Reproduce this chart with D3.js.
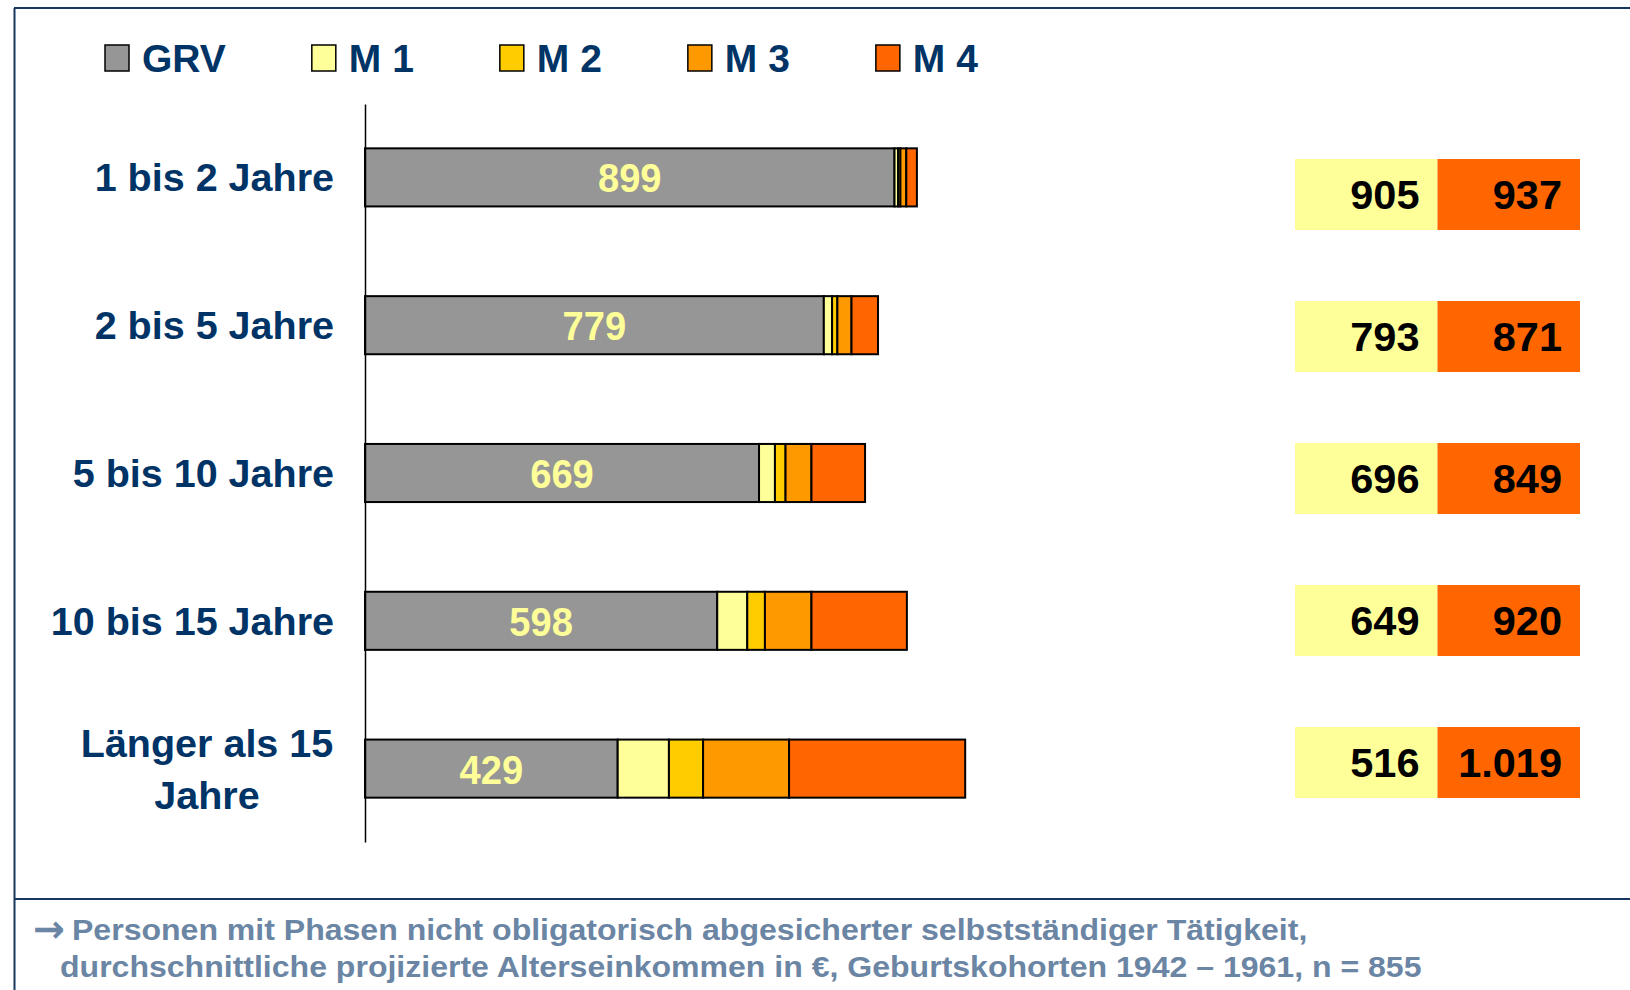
<!DOCTYPE html>
<html>
<head>
<meta charset="utf-8">
<script src="https://cdn.jsdelivr.net/npm/d3@7"></script>
<style>
  body { margin: 0; background: #fff; }
  svg { display: block; }
</style>
</head>
<body>
<div class="container"></div>
<script>
const categories = ["1 bis 2 Jahre", "2 bis 5 Jahre", "5 bis 10 Jahre", "10 bis 15 Jahre", "Länger als 15 Jahre"]
const seriesNames = ["GRV", "M 1", "M 2", "M 3", "M 4"]
const grv = [899, 779, 669, 598, 429]
const m1 = [6, 14, 27, 51, 87]
const m2 = [4, 9, 18, 30, 58]
const m3 = [10, 24, 44, 79, 146]
const m4 = [18, 45, 91, 162, 299]
const grvPlusM1 = ["905", "793", "696", "649", "516"]
const totals = ["937", "871", "849", "920", "1.019"]
const footerLines = [
    "Personen mit Phasen nicht obligatorisch abgesicherter selbstst\u00e4ndiger T\u00e4tigkeit,",
    "durchschnittliche projizierte Alterseinkommen in \u20ac, Geburtskohorten 1942 \u2013 1961, n = 855"
]

const colors = ["#969696", "#FFFF99", "#FFCC00", "#FF9900", "#FF6600"]
const navy = "#003366"
const width = 1630
const height = 990

const svg = d3.select(".container").append("svg")
    .attr("width", width)
    .attr("height", height)

// frame lines
svg.append("line").attr("x1", 14).attr("x2", width).attr("y1", 8).attr("y2", 8)
    .attr("stroke", "#17375E").attr("stroke-width", 2)
svg.append("line").attr("x1", 14.5).attr("x2", 14.5).attr("y1", 8).attr("y2", height)
    .attr("stroke", "#17375E").attr("stroke-width", 2)
svg.append("line").attr("x1", 14).attr("x2", width).attr("y1", 899).attr("y2", 899)
    .attr("stroke", "#17375E").attr("stroke-width", 2)

const xScale = d3.scaleLinear()
    .domain([0, 1000])
    .range([365, 954])

const yScale = d3.scaleBand()
    .domain(categories)
    .range([104, 842])
    .paddingInner(0.607)
    .paddingOuter(0.3)

const series = [grv, m1, m2, m3, m4]
const rows = categories.map((c, i) => {
    const row = { cat: c }
    seriesNames.forEach((s, j) => row[s] = series[j][i])
    return row
})
const stacked = d3.stack().keys(seriesNames)(rows)

stacked.forEach((layer, j) => {
    svg.append("g")
        .selectAll("rect")
        .data(layer)
        .enter()
        .append("rect")
        .attr("x", d => xScale(d[0]))
        .attr("y", d => yScale(d.data.cat))
        .attr("width", d => xScale(d[1]) - xScale(d[0]))
        .attr("height", yScale.bandwidth())
        .style("fill", colors[j])
        .style("stroke", "#000")
        .style("stroke-width", 2)
})

// GRV value labels (slightly condensed)
svg.append("g")
    .selectAll("text")
    .data(stacked[0])
    .enter()
    .append("text")
    .attr("transform", d => `translate(${(xScale(d[0]) + xScale(d[1])) / 2},${yScale(d.data.cat) + yScale.bandwidth() / 2 + 15}) scale(0.93,1)`)
    .attr("text-anchor", "middle")
    .style("font-family", "'Liberation Sans', Arial, sans-serif")
    .style("font-weight", "bold")
    .style("font-size", "41px")
    .style("fill", "#FFFF99")
    .text(d => d[1] - d[0])

// y axis line, no ticks
const yAxis = d3.axisLeft(yScale).tickSize(0).tickFormat("")
svg.append("g")
    .attr("transform", "translate(365,0)")
    .call(yAxis)
    .call(g => g.select(".domain").attr("stroke", "#000").attr("stroke-width", 1.5))

// category labels
const catLabels = svg.append("g")
    .selectAll("text")
    .data(categories)
    .enter()
    .append("text")
    .attr("text-anchor", "end")
    .style("font-family", "'Liberation Sans', Arial, sans-serif")
    .style("font-weight", "bold")
    .style("font-size", "39.5px")
    .style("fill", navy)

catLabels.each(function (d) {
    const cy = yScale(d) + yScale.bandwidth() / 2
    const t = d3.select(this)
    if (d === "Länger als 15 Jahre") {
        t.attr("text-anchor", "middle")
        t.append("tspan").attr("x", 207).attr("y", cy - 26 + 14).text("Länger als 15")
        t.append("tspan").attr("x", 207).attr("y", cy + 26 + 14).text("Jahre")
    } else {
        t.attr("x", 334).attr("y", cy + 14).text(d)
    }
})

// legend
const legend = svg.append("g").attr("class", "legend")
let lx = 105
seriesNames.forEach((s, i) => {
    legend.append("rect")
        .attr("x", lx).attr("y", 45)
        .attr("width", 24).attr("height", 26)
        .style("fill", colors[i])
        .style("stroke", "#000")
        .style("stroke-width", 1.5)
    const t = legend.append("text")
        .attr("x", lx + 37).attr("y", 72)
        .style("font-family", "'Liberation Sans', Arial, sans-serif")
        .style("font-weight", "bold")
        .style("font-size", "39px")
        .style("fill", navy)
        .text(s)
    lx = lx + 37 + t.node().getComputedTextLength() + 86
})

// right hand table
const tableY = d3.scaleBand()
    .domain(categories)
    .range([159, 798])
    .paddingInner(0.5)

const tableX = d3.scaleBand()
    .domain(["sum", "total"])
    .range([1295, 1580])

const tableData = categories.map((c, i) => ({ cat: c, sum: grvPlusM1[i], total: totals[i] }))
const tableCols = [
    { key: "sum", fill: "#FFFF99" },
    { key: "total", fill: "#FF6600" }
]

tableCols.forEach(col => {
    const g = svg.append("g")
    g.selectAll("rect")
        .data(tableData)
        .enter()
        .append("rect")
        .attr("x", tableX(col.key))
        .attr("y", d => tableY(d.cat))
        .attr("width", tableX.bandwidth())
        .attr("height", tableY.bandwidth())
        .style("fill", col.fill)
    g.selectAll("text")
        .data(tableData)
        .enter()
        .append("text")
        .attr("x", tableX(col.key) + tableX.bandwidth() - 18)
        .attr("y", d => tableY(d.cat) + tableY.bandwidth() / 2 + 14)
        .attr("text-anchor", "end")
        .style("font-family", "'Liberation Sans', Arial, sans-serif")
        .style("font-weight", "bold")
        .style("font-size", "41.5px")
        .style("fill", "#000")
        .text(d => d[col.key])
})

// footer note
const footColor = "#6B85A4"
svg.append("text")
    .attr("x", 33).attr("y", 942)
    .style("font-family", "'DejaVu Sans', sans-serif")
    .style("font-weight", "bold")
    .style("font-size", "38px")
    .style("fill", footColor)
    .text("\u2192")

svg.append("g")
    .selectAll("text")
    .data(footerLines)
    .enter()
    .append("text")
    .attr("transform", (d, i) => `translate(${i === 0 ? 72 : 60},${940 + i * 37}) scale(1.105,1)`)
    .style("font-family", "'Liberation Sans', Arial, sans-serif")
    .style("font-weight", "bold")
    .style("font-size", "29px")
    .style("fill", footColor)
    .text(d => d)
</script>
</body>
</html>
